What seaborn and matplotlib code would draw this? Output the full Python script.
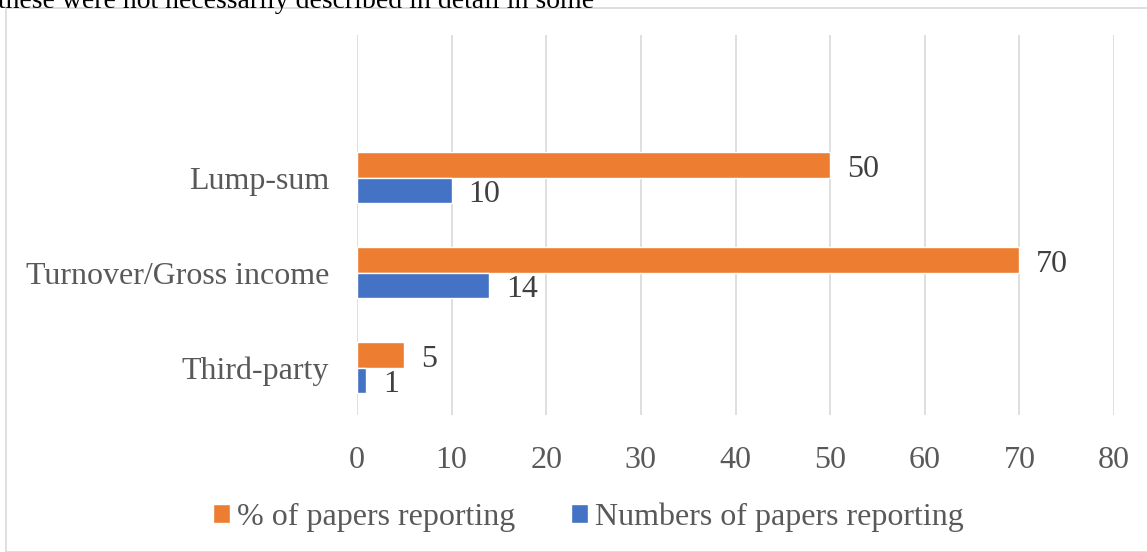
import matplotlib
matplotlib.use("Agg")
import matplotlib.pyplot as plt
import seaborn as sns
import pandas as pd
from matplotlib.patches import Rectangle

categories = ["Lump-sum", "Turnover/Gross income", "Third-party"]
pct_values = [50, 70, 5]
num_values = [10, 14, 1]
series_names = ["% of papers reporting", "Numbers of papers reporting"]
x_ticks = [0, 10, 20, 30, 40, 50, 60, 70, 80]
header_text = "these were not necessarily described in detail in some"

df = pd.DataFrame({
    "category": categories * 2,
    "value": pct_values + num_values,
    "series": [series_names[0]] * 3 + [series_names[1]] * 3,
})

sns.set_theme(style="white")
plt.rcParams["font.family"] = ["Liberation Serif", "DejaVu Serif"]

TXT = "#595959"
fig = plt.figure(figsize=(11.47, 5.52), dpi=100)
fig.patches.append(Rectangle((6 / 1147, 0), 1.0, 1 - 8 / 552, transform=fig.transFigure,
                             fill=False, edgecolor="#D9D9D9", linewidth=1.2))
fig.text(-0.002, 1 - 1 / 552, header_text, fontsize=20, color="black", va="center", ha="left")

ax = fig.add_axes([357 / 1147, 1 - 415 / 552, (1114 - 357) / 1147, (415 - 35) / 552])
sns.barplot(data=df, y="category", x="value", hue="series", hue_order=series_names,
            order=categories, orient="h", palette=["#ED7D31", "#4472C4"],
            width=0.53, saturation=1, ax=ax, legend=True)

ax.set_xlim(0, 80)
ax.set_ylim(2.5, -1.5)
ax.set_xticks(x_ticks)
ax.set_xticklabels([str(t) for t in x_ticks])
ax.xaxis.grid(True, color="#D9D9D9", linewidth=1.2)
ax.set_axisbelow(True)
for s in ax.spines.values():
    s.set_visible(False)
ax.tick_params(axis="x", length=0, pad=22, labelsize=23, labelcolor=TXT)
ax.tick_params(axis="y", length=0, pad=20, labelsize=23, labelcolor=TXT)
ax.set_xlabel("")
ax.set_ylabel("")

for cont in ax.containers:
    anns = ax.bar_label(cont, labels=[f"{v:g}" for v in cont.datavalues], padding=12,
                        fontsize=23, color="#404040")
    for a in anns:
        x0, y0 = a.xyann
        a.xyann = (x0, y0 - 3.5)

leg = ax.get_legend()
handles = leg.legend_handles
leg.remove()
fig.legend(handles, series_names, loc="center", bbox_to_anchor=(0.513, 1 - 517 / 552),
           ncol=2, frameon=False, fontsize=23, labelcolor=TXT, handlelength=0.52,
           handleheight=0.5, handletextpad=0.22, columnspacing=1.75)

fig.savefig("out.png", dpi=100)
